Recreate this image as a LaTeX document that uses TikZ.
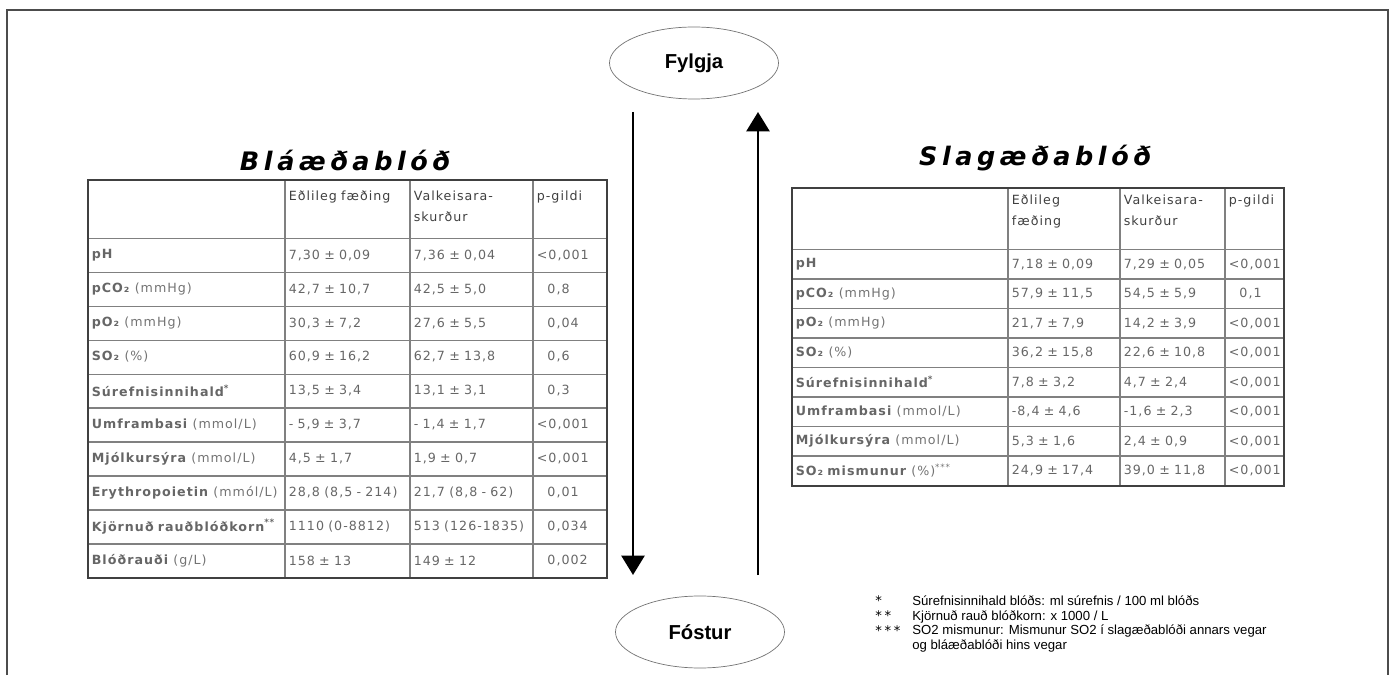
\documentclass[tikz,border=0pt]{standalone}
\usepackage{fontspec}
\setmainfont{Liberation Sans}
\newfontfamily\tabfont[LetterSpace=8]{DejaVu Sans}
\newfontfamily\titlefont[LetterSpace=18]{DejaVu Sans}
\newfontfamily\starfont[LetterSpace=20]{DejaVu Sans}
\usetikzlibrary{matrix,shapes.geometric,arrows.meta}
\newcommand{\tabcell}{\tabfont\fontsize{7.2}{12}\selectfont}
\newcommand{\einung}[1]{{\mdseries\color{black!55}#1}}
\newcommand{\nolt}{\hphantom{<}}

\begin{document}
\begin{tikzpicture}
        \tikzstyle{stadur} = [draw=black!55, ellipse, minimum width=3.38cm, minimum height=1.44cm, inner sep=0pt, font=\bfseries\fontsize{11.5}{12}\selectfont]
        \tikzstyle{flaedi} = [line width=1.7pt, -{Triangle[width=13pt,length=11pt]}]
        \tikzstyle{titill} = [font=\titlefont\bfseries\itshape\fontsize{14.5}{16}\selectfont]
        \tikzstyle{cell} = [inner xsep=0.07cm, inner ysep=0pt, align=left, anchor=center, text=black!60, font=\tabcell]
        \tikzstyle{tafla} = [matrix of nodes, nodes in empty cells, inner sep=0pt, column sep=0pt, row sep=0pt, nodes={cell}, column 1/.style={nodes={text=black}}]
        \tikzstyle{gridline} = [draw=black!50, line width=0.9pt]
        \tikzstyle{frame} = [draw=black!75, line width=1.3pt]
        \tikzstyle{skyring} = [inner sep=0pt, align=left, font=\fontsize{7.5}{8.5}\selectfont]

        \useasboundingbox (0,0) rectangle (27.9,13.5);
        \draw[black!70, line width=1pt] (0.14,0) -- (0.14,13.3) -- (27.76,13.3) -- (27.76,0);

        % placenta and fetus
        \node (fylgja) [stadur] at (13.88,12.24) {Fylgja};
        \node (fostur) [stadur] at (14.00,0.86) {Fóstur};
        \coordinate (nidur-a) at (12.66,11.26);
        \coordinate (nidur-b) at (12.66,2.00);
        \coordinate (upp-a) at (15.16,2.00);
        \coordinate (upp-b) at (15.16,11.26);
        \draw[flaedi] (nidur-a) -- (nidur-b);
        \draw[flaedi] (upp-a) -- (upp-b);

        % venous blood
        \node (blae-titill) [titill] at (6.90,10.30) {Bláæðablóð};
        \matrix (blaeda) [tafla, anchor=north west,
            column 1/.style={nodes={text width=3.80cm}},
            column 2/.style={nodes={text width=2.36cm}},
            column 3/.style={nodes={text width=2.32cm}},
            column 4/.style={nodes={text width=1.32cm}},
            nodes={minimum height=0.678cm},
            row 1/.style={nodes={text height=0.40cm, text depth=0.76cm, text=black!75}}] at (1.76,9.90) {
            & Eðlileg fæðing & Valkeisara-\newline skurður & p-gildi \\
            \textbf{pH} & 7,30 ± 0,09 & 7,36 ± 0,04 & <0,001 \\
            \textbf{pCO₂} \einung{(mmHg)} & 42,7 ± 10,7 & 42,5 ± 5,0 & \nolt 0,8 \\
            \textbf{pO₂} \einung{(mmHg)} & 30,3 ± 7,2 & 27,6 ± 5,5 & \nolt 0,04 \\
            \textbf{SO₂} \einung{(\%)} & 60,9 ± 16,2 & 62,7 ± 13,8 & \nolt 0,6 \\
            \textbf{Súrefnisinnihald\textsuperscript{*}} & 13,5 ± 3,4 & 13,1 ± 3,1 & \nolt 0,3 \\
            \textbf{Umframbasi} \einung{(mmol/L)} & - 5,9 ± 3,7 & - 1,4 ± 1,7 & <0,001 \\
            \textbf{Mjólkursýra} \einung{(mmol/L)} & 4,5 ± 1,7 & 1,9 ± 0,7 & <0,001 \\
            \textbf{Erythropoietin} \einung{(mmól/L)} & 28,8 (8,5 - 214) & 21,7 (8,8 - 62) & \nolt 0,01 \\
            \textbf{Kjörnuð rauðblóðkorn\textsuperscript{**}} & 1110 (0-8812) & 513 (126-1835) & \nolt 0,034 \\
            \textbf{Blóðrauði} \einung{(g/L)} & 158 ± 13 & 149 ± 12 & \nolt 0,002 \\
        };
        \foreach \c in {2,3,4}
            \draw[gridline] (blaeda-1-\c.north west) -- (blaeda-11-\c.south west);
        \foreach \r in {1,...,10}
            \draw[gridline] (blaeda-\r-1.south west) -- (blaeda-\r-4.south east);
        \draw[frame] (blaeda.north west) rectangle (blaeda.south east);

        % arterial blood
        \node (slag-titill) [titill] at (20.70,10.34) {Slagæðablóð};
        \matrix (slagaeda) [tafla, anchor=north west,
            column 1/.style={nodes={text width=4.18cm}},
            column 2/.style={nodes={text width=2.10cm}},
            column 3/.style={nodes={text width=1.96cm}},
            column 4/.style={nodes={text width=1.02cm}},
            nodes={minimum height=0.59cm},
            row 1/.style={nodes={text height=0.32cm, text depth=0.90cm, text=black!75}}] at (15.84,9.74) {
            & Eðlileg\newline fæðing & Valkeisara-\newline skurður & p-gildi \\
            \textbf{pH} & 7,18 ± 0,09 & 7,29 ± 0,05 & <0,001 \\
            \textbf{pCO₂} \einung{(mmHg)} & 57,9 ± 11,5 & 54,5 ± 5,9 & \nolt 0,1 \\
            \textbf{pO₂} \einung{(mmHg)} & 21,7 ± 7,9 & 14,2 ± 3,9 & <0,001 \\
            \textbf{SO₂} \einung{(\%)} & 36,2 ± 15,8 & 22,6 ± 10,8 & <0,001 \\
            \textbf{Súrefnisinnihald\textsuperscript{*}} & 7,8 ± 3,2 & 4,7 ± 2,4 & <0,001 \\
            \textbf{Umframbasi} \einung{(mmol/L)} & -8,4 ± 4,6 & -1,6 ± 2,3 & <0,001 \\
            \textbf{Mjólkursýra} \einung{(mmol/L)} & 5,3 ± 1,6 & 2,4 ± 0,9 & <0,001 \\
            \textbf{SO₂ mismunur} \einung{(\%)\textsuperscript{***}} & 24,9 ± 17,4 & 39,0 ± 11,8 & <0,001 \\
        };
        \foreach \c in {2,3,4}
            \draw[gridline] (slagaeda-1-\c.north west) -- (slagaeda-9-\c.south west);
        \foreach \r in {1,...,8}
            \draw[gridline] (slagaeda-\r-1.south west) -- (slagaeda-\r-4.south east);
        \draw[frame] (slagaeda.north west) rectangle (slagaeda.south east);

        % footnotes
        \node (stjornur) [skyring, anchor=north west, font=\starfont\fontsize{7.5}{8.5}\selectfont] at (17.50,1.60) {*\\**\\***};
        \node (skyringar) [skyring, anchor=north west] at (18.24,1.60) {Súrefnisinnihald blóðs: ml súrefnis / 100 ml blóðs\\Kjörnuð rauð blóðkorn: x 1000 / L\\SO2 mismunur: Mismunur SO2 í slagæðablóði annars vegar\\og bláæðablóði hins vegar};
\end{tikzpicture}
\end{document}
